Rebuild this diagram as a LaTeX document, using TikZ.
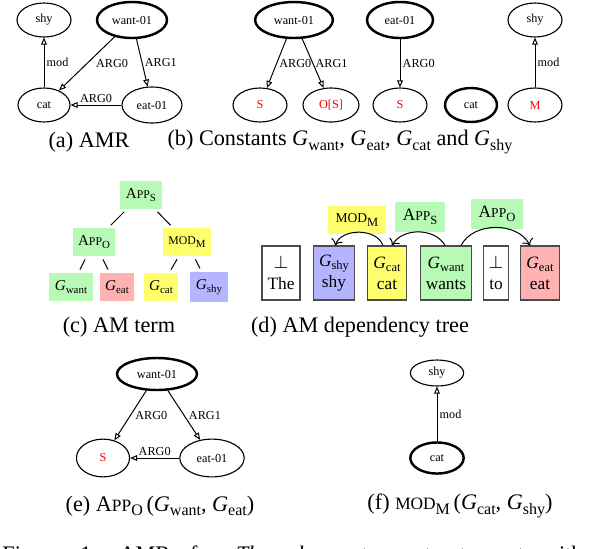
\documentclass[tikz,border=0pt]{standalone}
\usepackage{fontspec}
\setmainfont{Liberation Serif}
\usetikzlibrary{shapes.geometric, arrows.meta}

\definecolor{appgreen}{RGB}{182,250,182}
\definecolor{srcpink}{RGB}{255,178,178}
\definecolor{modyellow}{RGB}{255,255,110}
\definecolor{shyblue}{RGB}{180,180,255}

\newcommand{\subx}[1]{\raisebox{-0.45ex}{\scalebox{0.72}{#1}}}
\newcommand{\gsub}[1]{\textit{G}\subx{#1}}
\newcommand{\opapp}[1]{A\scalebox{0.78}{PP}\subx{#1}}
\newcommand{\opmod}[1]{\scalebox{0.78}{MOD}\subx{#1}}

\tikzset{
	amr/.style={ellipse, draw, line width=0.5pt, inner sep=0pt, minimum width=24.3pt, minimum height=15.3pt, font=\fontsize{5.5}{6}\selectfont},
	amrroot/.style={amr, line width=1.1pt},
	src/.style={text=red},
	amrarc/.style={line width=0.45pt, -{Triangle[open, length=3.2pt, width=2.6pt]}},
	elabel/.style={font=\fontsize{5.5}{6}\selectfont, inner sep=1pt},
	subcap/.style={font=\fontsize{10}{12}\selectfont, inner sep=0pt},
}

\begin{document}
\begin{tikzpicture}[x=0.45pt, y=-0.45pt]
	\useasboundingbox (0,0) rectangle (594,548);
	\clip (0,0) rectangle (594,548);

	% (a) AMR
	\node[amr] (shyA) at (44,20) {shy};
	\node[amrroot, minimum width=31.5pt, minimum height=16.2pt] (wantA) at (132,20) {want-01};
	\node[amr, minimum width=23.4pt] (catA) at (44,105) {cat};
	\node[amr, minimum width=27pt, minimum height=16.2pt] (eatA) at (152,105) {eat-01};
	\draw[amrarc] (catA) -- node[elabel, right] {mod} (shyA);
	\draw[amrarc] (wantA) -- node[elabel, right, xshift=3pt] {ARG0} (catA);
	\draw[amrarc] (wantA) -- node[elabel, right] {ARG1} (eatA);
	\draw[amrarc] (eatA) -- node[elabel, above] {ARG0} (catA);
	\node[subcap] (capA) at (89,142) {(a) AMR};

	% (b) constants
	\node[amrroot, minimum width=35pt, minimum height=16.2pt] (wantB) at (294,20) {want-01};
	\node[amr, src] (sB) at (260,105) {S};
	\node[amr, src, minimum width=25.2pt] (osB) at (331,105) {O[S]};
	\draw[amrarc] (wantB) -- node[elabel, right] {ARG0} (sB);
	\draw[amrarc] (wantB) -- node[elabel, right] {ARG1} (osB);
	\node[amrroot, minimum width=29.7pt, minimum height=16.2pt] (eatB) at (400,20) {eat-01};
	\node[amr, src] (seB) at (400,105) {S};
	\draw[amrarc] (eatB) -- node[elabel, right] {ARG0} (seB);
	\node[amrroot, minimum width=23.4pt] (catB) at (471,105) {cat};
	\node[amr] (shyB) at (535,20) {shy};
	\node[amr, src] (mB) at (535,105) {M};
	\draw[amrarc] (mB) -- node[elabel, right] {mod} (shyB);
	\node[subcap] (capB) at (340,142) {(b) Constants \gsub{want}, \gsub{eat}, \gsub{cat} and \gsub{shy}};

	% (c) AM term
	\begin{scope}
		\tikzstyle{every node}=[inner xsep=2.5pt, minimum height=12.5pt, font=\fontsize{6.8}{8}\selectfont]
		\node[fill=appgreen] (appS) at (141,195) {\opapp{S}};
		\node[fill=appgreen] (appO) at (94,242) {\opapp{O}};
		\node[fill=modyellow] (modM) at (187,242) {\opmod{M}};
		\node[fill=appgreen] (gwant) at (71,287) {\gsub{want}};
		\node[fill=srcpink] (geat) at (117,287) {\gsub{eat}};
		\node[fill=modyellow] (gcat) at (161,287) {\gsub{cat}};
		\node[fill=shyblue] (gshy) at (209,287) {\gsub{shy}};

		\draw[line width=0.45pt, shorten <=1.5pt, shorten >=1.5pt] (appS) -- (appO);
		\draw[line width=0.45pt, shorten <=1.5pt, shorten >=1.5pt] (appS) -- (modM);
		\draw[line width=0.45pt, shorten <=1.5pt, shorten >=1.5pt] (appO) -- (gwant);
		\draw[line width=0.45pt, shorten <=1.5pt, shorten >=1.5pt] (appO) -- (geat);
		\draw[line width=0.45pt, shorten <=1.5pt, shorten >=1.5pt] (modM) -- (gcat);
		\draw[line width=0.45pt, shorten <=1.5pt, shorten >=1.5pt] (modM) -- (gshy);
	\end{scope}
	\node[subcap] (capC) at (119,327) {(c) AM term};

	% (d) AM dependency tree
	\begin{scope}
		\tikzstyle{every node}=[align=center, inner xsep=2.5pt, font=\fontsize{7.8}{9.5}\selectfont]
		\node[draw=black!70, line width=0.5pt, fill=white, minimum height=24.3pt] (theD) at (281,273) {$\perp$\\The};
		\node[draw=black!70, line width=0.5pt, fill=shyblue, minimum height=24.3pt] (shyD) at (334,273) {\gsub{shy}\\shy};
		\node[draw=black!70, line width=0.5pt, fill=modyellow, minimum height=24.3pt] (catD) at (387,273) {\gsub{cat}\\cat};
		\node[draw=black!70, line width=0.5pt, fill=appgreen, minimum height=24.3pt] (wantsD) at (446,273) {\gsub{want}\\wants};
		\node[draw=black!70, line width=0.5pt, fill=white, minimum height=24.3pt] (toD) at (496,273) {$\perp$\\to};
		\node[draw=black!70, line width=0.5pt, fill=srcpink, minimum height=24.3pt] (eatD) at (540,273) {\gsub{eat}\\eat};

		\node[fill=modyellow, inner xsep=3.5pt, minimum height=10.8pt] (modD) at (357,220) {\opmod{M}};
		\node[fill=appgreen, inner xsep=3.5pt, minimum height=11.3pt] (appSD) at (420,217) {\opapp{S}};
		\node[fill=appgreen, inner xsep=3.5pt, minimum height=11.3pt] (appOD) at (497,214) {\opapp{O}};

		\draw[->, line width=0.45pt] ([xshift=-1.8pt]catD.north) to[bend right=70] ([xshift=0.5pt]shyD.north);
		\draw[->, line width=0.45pt] ([xshift=-0.4pt]wantsD.north) to[bend right=60] ([xshift=2.2pt]catD.north);
		\draw[->, line width=0.45pt] ([xshift=6.8pt]wantsD.north) to[bend left=63] ([xshift=-4.5pt]eatD.north);
	\end{scope}
	\node[subcap] (capD) at (360,327) {(d) AM dependency tree};

	% (e) App_O(G_want, G_eat)
	\node[amrroot, minimum width=36pt, minimum height=14.4pt] (wantE) at (157,374) {want-01};
	\node[amr, src, minimum width=23.9pt, minimum height=17pt] (sE) at (103,458) {S};
	\node[amr, minimum width=29pt, minimum height=17pt] (eatE) at (212,458) {eat-01};
	\draw[amrarc] (wantE) -- node[elabel, right, xshift=1pt] {ARG0} (sE);
	\draw[amrarc] (wantE) -- node[elabel, right, xshift=1pt] {ARG1} (eatE);
	\draw[amrarc] (eatE) -- node[elabel, above] {ARG0} (sE);
	\node[subcap] (capE) at (160,506) {(e) \opapp{O}\,(\gsub{want}, \gsub{eat})};

	% (f) Mod_M(G_cat, G_shy)
	\node[amr, minimum width=24pt, minimum height=11.7pt] (shyF) at (437,373) {shy};
	\node[amrroot, minimum width=24pt, minimum height=14pt] (catF) at (437,458) {cat};
	\draw[amrarc] (catF) -- node[elabel, right] {mod} (shyF);
	\node[subcap] (capF) at (460,506) {(f) \opmod{M}\,(\gsub{cat}, \gsub{shy})};

	% figure caption, cut by the page edge
	\node[subcap, anchor=base west] (figcap) at (2,561) {\spaceskip=9pt Figure~1: AMR for \textit{The shy cat wants to eat} with its};
\end{tikzpicture}
\end{document}
